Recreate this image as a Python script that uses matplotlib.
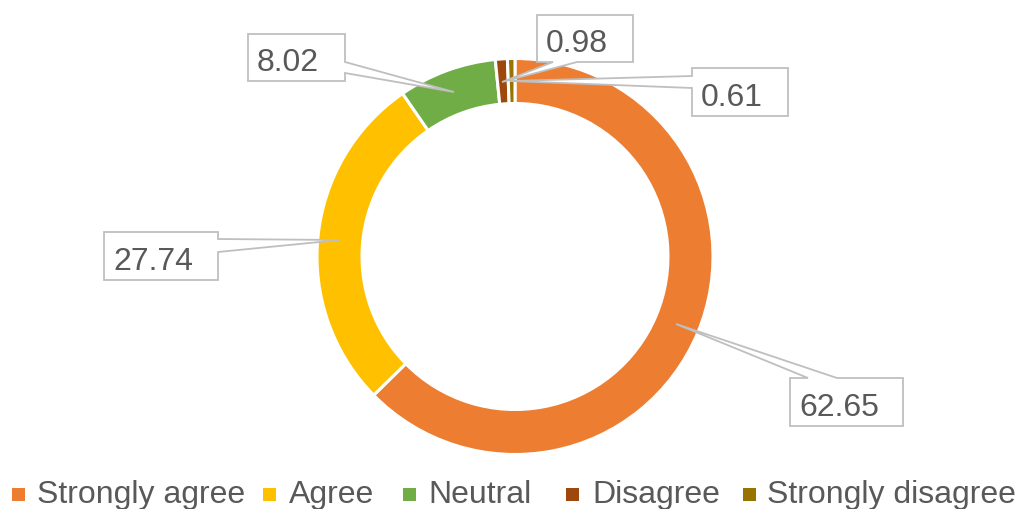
import matplotlib
matplotlib.use("Agg")
import matplotlib.pyplot as plt
from matplotlib.patches import Polygon, Rectangle

categories = ["Strongly agree", "Agree", "Neutral", "Disagree", "Strongly disagree"]
values = [62.65, 27.74, 8.02, 0.98, 0.61]
colors = ["#ED7D31", "#FFC000", "#70AD47", "#9E480E", "#997300"]

W, H = 1020, 509
fig = plt.figure(figsize=(W / 100, H / 100), dpi=100)
ax = fig.add_axes([0, 0, 1, 1])

def Y(y):
    return H - y

ax.pie(values, colors=colors, startangle=90, counterclock=False,
       radius=198, center=(515, Y(256.5)),
       wedgeprops=dict(width=45, edgecolor="white", linewidth=2.2))

ax.set_xlim(0, W)
ax.set_ylim(0, H)
ax.set_aspect("equal")
ax.axis("off")

FONT = "Liberation Sans"
TXT = "#595959"
EDGE = "#BFBFBF"

# callout shapes (image pixel coords): box and pointer
callouts = {
    "Strongly agree": dict(box=(790, 378, 903, 426), side="top", base=(808, 837), tip=(676, 324)),
    "Agree": dict(box=(104, 232, 218, 280), side="right", base=(239, 252), tip=(340, 240)),
    "Neutral": dict(box=(248, 34, 345, 81), side="right", base=(62, 73), tip=(454, 92)),
    "Disagree": dict(box=(537, 15, 633, 62), side="bottom", base=(577, 553), tip=(502, 82)),
    "Strongly disagree": dict(box=(692, 68, 788, 116), side="left", base=(88, 76), tip=(510, 81)),
}

for cat, val in zip(categories, values):
    c = callouts[cat]
    x0, y0, x1, y1 = c["box"]
    b1, b2 = c["base"]
    tx, ty = c["tip"]
    if c["side"] == "right":
        pts = [(x0, y0), (x1, y0), (x1, b1), (tx, ty), (x1, b2), (x1, y1), (x0, y1)]
    elif c["side"] == "top":
        pts = [(x0, y0), (b1, y0), (tx, ty), (b2, y0), (x1, y0), (x1, y1), (x0, y1)]
    elif c["side"] == "bottom":
        pts = [(x0, y0), (x1, y0), (x1, y1), (b1, y1), (tx, ty), (b2, y1), (x0, y1)]
    else:  # left
        pts = [(x0, y0), (x1, y0), (x1, y1), (x0, y1), (x0, b1), (tx, ty), (x0, b2)]
    poly = Polygon([(px, Y(py)) for px, py in pts], closed=True,
                   facecolor="white", edgecolor=EDGE, linewidth=1.3, zorder=5)
    ax.add_patch(poly)
    ax.text(x0 + 9, Y(y1 - 10), f"{val:.2f}", fontsize=23, family=FONT,
            color=TXT, ha="left", va="baseline", zorder=6)

# legend
legend_sq_x = [12, 263, 403, 566, 743]
legend_txt_x = [37, 289, 428, 592, 767]
for cat, col, sx, tx in zip(categories, colors, legend_sq_x, legend_txt_x):
    ax.add_patch(Rectangle((sx, Y(501)), 13, 13, facecolor=col, edgecolor="none", zorder=5))
    ax.text(tx, Y(503), cat, fontsize=23, family=FONT, color=TXT,
            ha="left", va="baseline", zorder=6)

fig.savefig("out.png", dpi=100, facecolor="white")
